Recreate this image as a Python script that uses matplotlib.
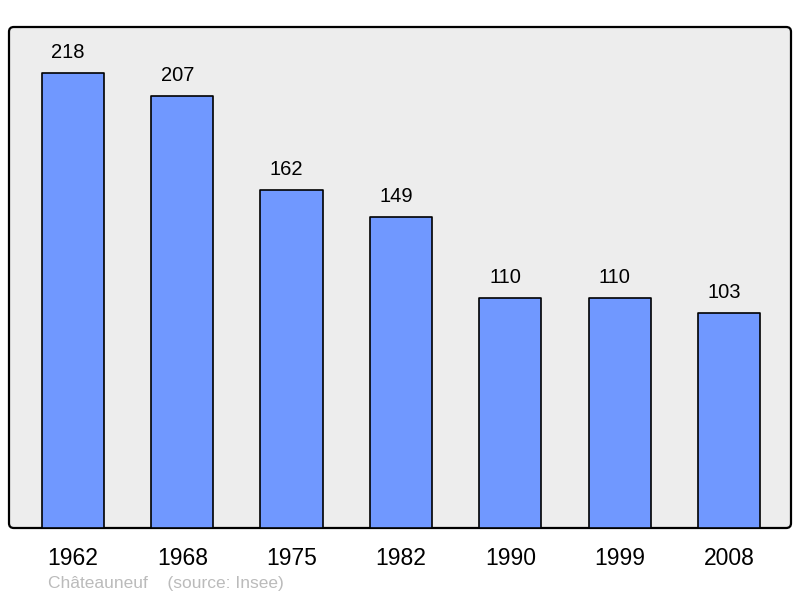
import matplotlib.pyplot as plt
from matplotlib.patches import FancyBboxPatch

years = ["1962", "1968", "1975", "1982", "1990", "1999", "2008"]
population = [218, 207, 162, 149, 110, 110, 103]
town = "Châteauneuf"
source = "(source: Insee)"

plt.rcParams['font.family'] = ['Liberation Sans', 'DejaVu Sans']

fig = plt.figure(figsize=(8, 5.98), dpi=100)
ax = fig.add_axes([9 / 800, 70 / 598, 782 / 800, 501 / 598])
ax.set_facecolor('none')
ax.set_zorder(1)

# background box with slightly rounded corners
frame = FancyBboxPatch((9 / 800, 70 / 598), 782 / 800, 501 / 598,
                       boxstyle="round,pad=0,rounding_size=0.006",
                       mutation_aspect=800 / 598,
                       transform=fig.transFigure, facecolor='#ededed',
                       edgecolor='black', linewidth=1.6, zorder=-1)
fig.patches.append(frame)

x = range(len(years))
bars = ax.bar(x, population, width=0.57, color='#7098ff',
              edgecolor='black', linewidth=1.2, joinstyle='round', zorder=2)

# value labels sit a little left of the bar centre, as in the original
for xi, v in zip(x, population):
    ax.annotate(str(v), (xi, v), xytext=(-3.6, 11), textcoords='offset points',
                ha='center', va='baseline', fontsize=14.5)

ax.set_xlim(-0.585, 6.567)
ax.set_ylim(0, 240)
ax.set_xticks(list(x))
ax.set_xticklabels(years, fontsize=16.5)
ax.tick_params(axis='x', length=0, pad=14)
ax.set_yticks([])
for s in ax.spines.values():
    s.set_visible(False)

fig.text(48 / 800, 1 - 588 / 598, town + "    " + source,
         fontsize=12.5, color='#bbbbbb', ha='left', va='baseline')

fig.savefig('out.png', dpi=100)
